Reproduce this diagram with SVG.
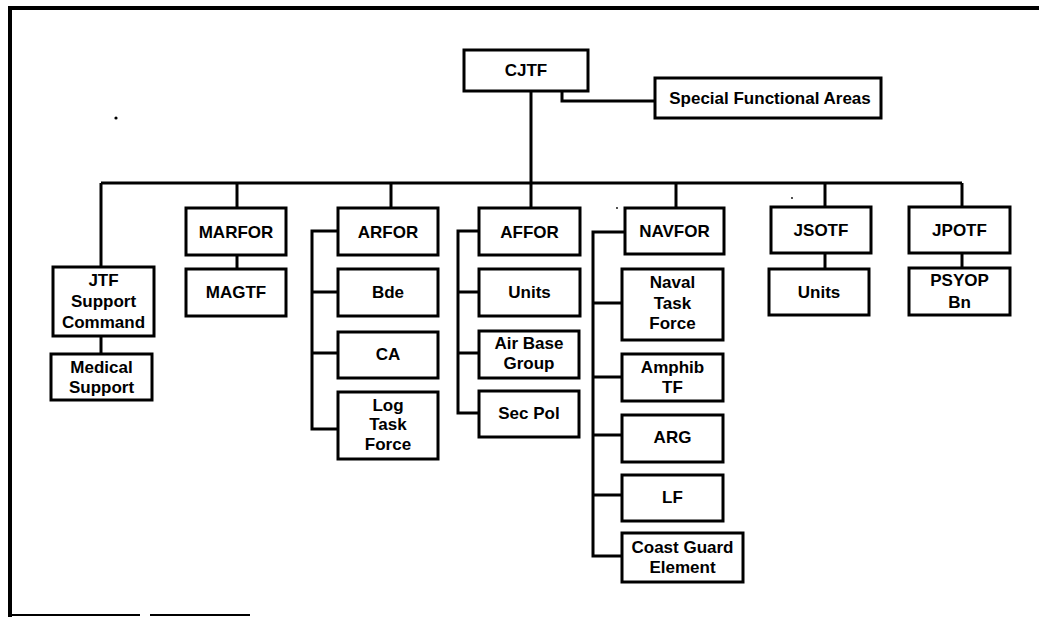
<svg xmlns="http://www.w3.org/2000/svg" width="1039" height="617" viewBox="0 0 1039 617">
<style>
.box{fill:#fff;stroke:#000;stroke-width:3}
.t{font-family:"Liberation Sans",Arial,sans-serif;font-weight:bold;font-size:17px;text-anchor:middle;fill:#000}
.c{fill:none;stroke:#000;stroke-width:3}
</style>
<rect width="1039" height="617" fill="#fff"/>
<g id="frame">
<path d="M10 617V8H1039" fill="none" stroke="#000" stroke-width="4"/>
<path d="M10 615H140M150 615H250" fill="none" stroke="#000" stroke-width="2"/>
<circle cx="116" cy="118" r="1.6" fill="#000"/>
<circle cx="792" cy="198" r="0.9" fill="#000"/>
<circle cx="617" cy="208" r="0.9" fill="#000"/>
</g>
<g id="connectors" class="c">
<path d="M531 91V183"/>
<path d="M562 91V101H655"/>
<path d="M101 183H962"/>
<path d="M101 183V267"/>
<path d="M237 183V208"/>
<path d="M391 183V208"/>
<path d="M531 183V208"/>
<path d="M676 183V208"/>
<path d="M825 183V207"/>
<path d="M962 183V207"/>
<path d="M101 336V354"/>
<path d="M237 255V269"/>
<path d="M338 231H312V429H338M312 292H338M312 353H338"/>
<path d="M479 231H458V413H479M458 292H479M458 353H479"/>
<path d="M625 232H593V556H622M593 303H622M593 377H622M593 435H622M593 495H622"/>
<path d="M825 253V269"/>
<path d="M962 253V268"/>
</g>
<g id="n-cjtf"><rect class="box" x="464" y="50" width="124" height="41"/><text class="t" x="526" y="76">CJTF</text></g>
<g id="n-sfa"><rect class="box" x="655" y="78" width="226" height="40"/><text class="t" x="770" y="104">Special Functional Areas</text></g>
<g id="n-jtfsc"><rect class="box" x="53" y="267" width="101" height="69"/><text class="t" x="103.5" y="286">JTF</text><text class="t" x="103.5" y="307">Support</text><text class="t" x="103.5" y="328">Command</text></g>
<g id="n-med"><rect class="box" x="51" y="354" width="101" height="46"/><text class="t" x="101.5" y="373">Medical</text><text class="t" x="101.5" y="393">Support</text></g>
<g id="n-marfor"><rect class="box" x="186" y="208" width="100" height="47"/><text class="t" x="236" y="238">MARFOR</text></g>
<g id="n-magtf"><rect class="box" x="186" y="269" width="100" height="47"/><text class="t" x="236" y="298">MAGTF</text></g>
<g id="n-arfor"><rect class="box" x="338" y="208" width="100" height="47"/><text class="t" x="388" y="238">ARFOR</text></g>
<g id="n-bde"><rect class="box" x="338" y="269" width="100" height="47"/><text class="t" x="388" y="298">Bde</text></g>
<g id="n-ca"><rect class="box" x="338" y="332" width="100" height="46"/><text class="t" x="388" y="360">CA</text></g>
<g id="n-log"><rect class="box" x="338" y="392" width="100" height="67"/><text class="t" x="388" y="411">Log</text><text class="t" x="388" y="430">Task</text><text class="t" x="388" y="450">Force</text></g>
<g id="n-affor"><rect class="box" x="479" y="208" width="101" height="47"/><text class="t" x="529.5" y="238">AFFOR</text></g>
<g id="n-units1"><rect class="box" x="479" y="269" width="101" height="47"/><text class="t" x="529.5" y="298">Units</text></g>
<g id="n-abg"><rect class="box" x="479" y="331" width="100" height="47"/><text class="t" x="529" y="349">Air Base</text><text class="t" x="529" y="369">Group</text></g>
<g id="n-secpol"><rect class="box" x="479" y="391" width="100" height="46"/><text class="t" x="529" y="419">Sec Pol</text></g>
<g id="n-navfor"><rect class="box" x="625" y="208" width="99" height="46"/><text class="t" x="674.5" y="237">NAVFOR</text></g>
<g id="n-ntf"><rect class="box" x="622" y="269" width="101" height="71"/><text class="t" x="672.5" y="288">Naval</text><text class="t" x="672.5" y="309">Task</text><text class="t" x="672.5" y="329">Force</text></g>
<g id="n-amphib"><rect class="box" x="622" y="354" width="101" height="47"/><text class="t" x="672.5" y="373">Amphib</text><text class="t" x="672.5" y="393">TF</text></g>
<g id="n-arg"><rect class="box" x="622" y="415" width="101" height="47"/><text class="t" x="672.5" y="443">ARG</text></g>
<g id="n-lf"><rect class="box" x="622" y="475" width="101" height="46"/><text class="t" x="672.5" y="503">LF</text></g>
<g id="n-cge"><rect class="box" x="622" y="533" width="121" height="49"/><text class="t" x="682.5" y="553">Coast Guard</text><text class="t" x="682.5" y="573">Element</text></g>
<g id="n-jsotf"><rect class="box" x="771" y="207" width="100" height="46"/><text class="t" x="821" y="236">JSOTF</text></g>
<g id="n-units2"><rect class="box" x="769" y="269" width="100" height="46"/><text class="t" x="819" y="298">Units</text></g>
<g id="n-jpotf"><rect class="box" x="909" y="207" width="101" height="46"/><text class="t" x="959.5" y="236">JPOTF</text></g>
<g id="n-psyop"><rect class="box" x="909" y="268" width="101" height="47"/><text class="t" x="959.5" y="286">PSYOP</text><text class="t" x="959.5" y="308">Bn</text></g>
</svg>
